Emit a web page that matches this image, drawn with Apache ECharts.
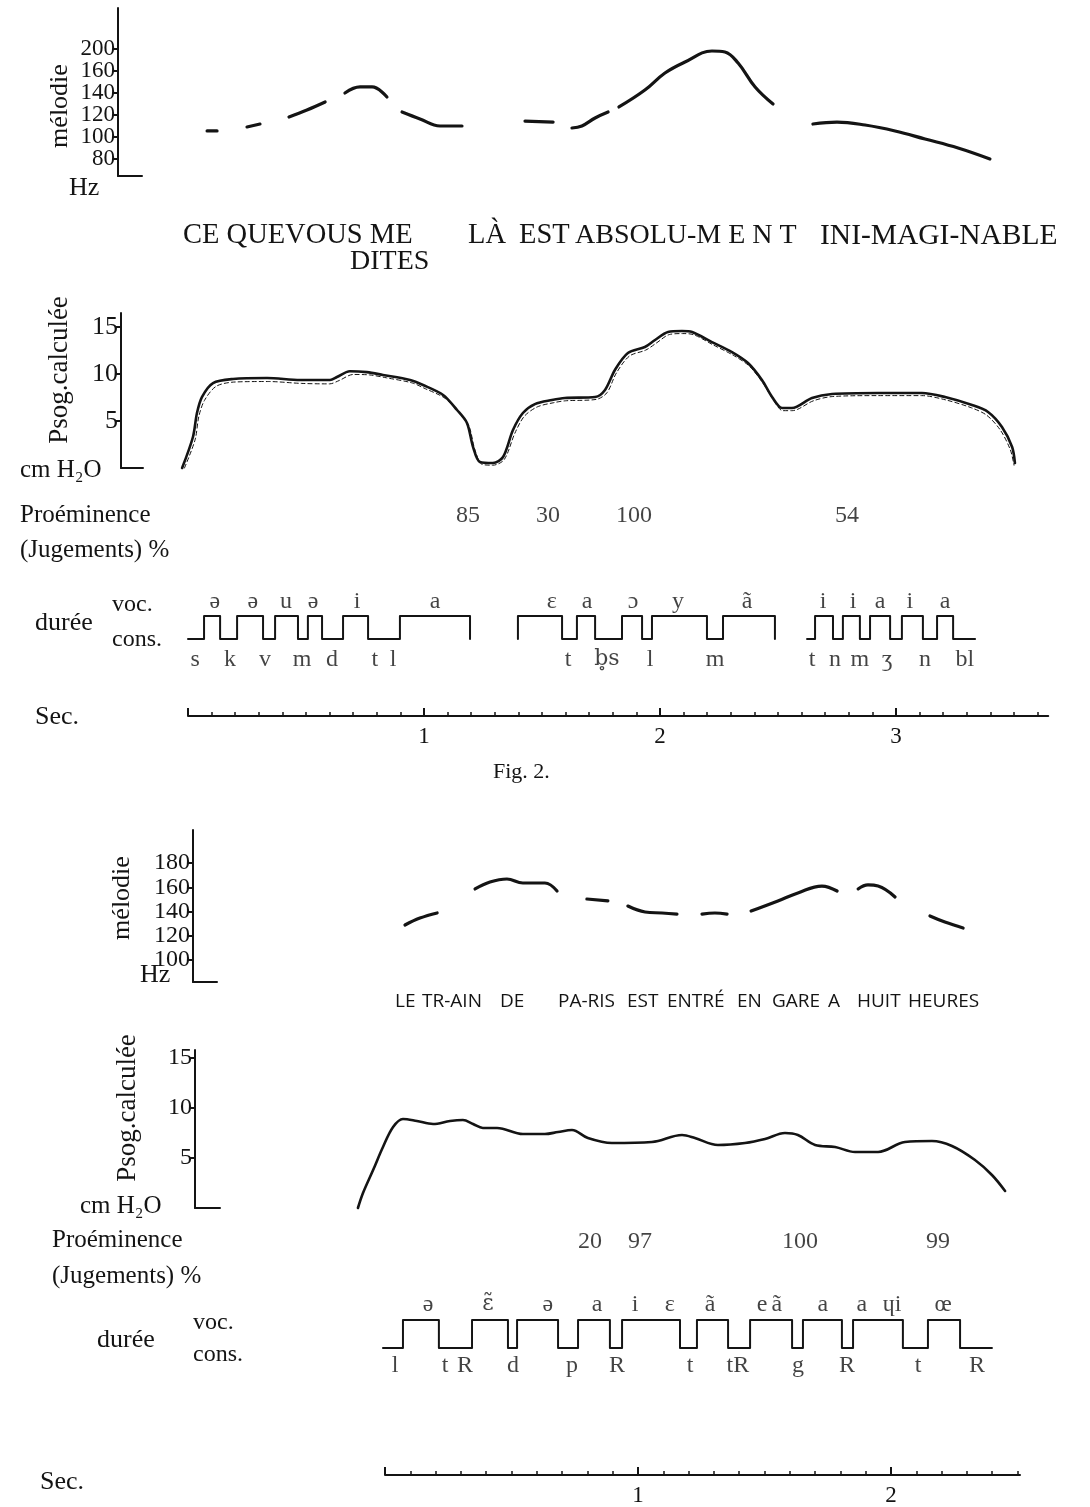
<!DOCTYPE html>
<html>
<head>
<meta charset="utf-8">
<script src="https://cdn.jsdelivr.net/npm/echarts@6/dist/echarts.min.js"></script>
<style>
  html, body { margin: 0; background: #fff; }
  #chart { width: 1090px; height: 1507px; }
</style>
</head>
<body>
<div id="chart"></div>
<script>
// ---------- Fig. 2 (haut) : "Ce que vous me dites là ..." ----------
// mélodie : segments [temps (s), Hz]
var melTicksA = [80, 100, 120, 140, 160, 200]
var melA = [
  [[0.081, 105.5], [0.123, 105.5]],
  [[0.250, 109.1], [0.305, 111.8]],
  [[0.428, 118.2], [0.504, 124.5], [0.581, 131.8]],
  [[0.665, 140], [0.729, 145.5], [0.780, 145.5], [0.843, 136.4]],
  [[0.907, 122.7], [0.983, 116.4], [1.068, 110], [1.161, 110]],
  [[1.428, 114.5], [1.547, 113.6]],
  [[1.627, 108.2], [1.669, 110], [1.725, 117.3], [1.780, 122.7]],
  [[1.826, 127.3], [1.936, 142.7], [2.021, 158.2], [2.106, 176.4], [2.220, 196.4], [2.275, 194.5], [2.331, 174.5], [2.403, 145.5], [2.479, 130]],
  [[2.648, 111.8], [2.750, 113.6], [2.869, 110.9], [2.996, 105.5], [3.123, 98.2], [3.263, 90], [3.398, 80]]
]
// Psog calculée (cm H2O), trait plein et trait pointillé
var psogA = [
  [-0.025, 0], [0.021, 3.3], [0.038, 5.85], [0.059, 7.55], [0.106, 9.04], [0.191, 9.47], [0.335, 9.57],
  [0.475, 9.36], [0.602, 9.36], [0.631, 9.68], [0.686, 10.3], [0.758, 10.2], [0.826, 9.9], [0.941, 9.36],
  [0.996, 8.83], [1.081, 7.77], [1.140, 6.17], [1.182, 4.79], [1.208, 2.23], [1.237, 0.64], [1.292, 0.53],
  [1.335, 1.17], [1.377, 4.04], [1.419, 5.85], [1.470, 6.8], [1.542, 7.23], [1.597, 7.45], [1.725, 7.55],
  [1.767, 8.3], [1.809, 10.43], [1.864, 12.23], [1.936, 12.87], [1.979, 13.62], [2.034, 14.47], [2.093, 14.57],
  [2.136, 14.47], [2.220, 13.4], [2.305, 12.34], [2.373, 11.17], [2.432, 9.36], [2.475, 7.55], [2.517, 6.38],
  [2.559, 6.38], [2.644, 7.45], [2.729, 7.87], [2.924, 7.98], [3.110, 7.98], [3.208, 7.55], [3.322, 6.7],
  [3.390, 5.96], [3.449, 4.36], [3.492, 2.23], [3.504, 0.53]
]
var psogA2 = [
  [-0.015, 0], [0.030, 3.0], [0.046, 5.5], [0.070, 7.2], [0.120, 8.7], [0.200, 9.15], [0.340, 9.2],
  [0.480, 9.0], [0.600, 8.95], [0.640, 9.3], [0.700, 9.95], [0.770, 9.9], [0.840, 9.6], [0.950, 9.05],
  [1.000, 8.5], [1.090, 7.4], [1.150, 5.8], [1.190, 4.5], [1.215, 2.0], [1.245, 0.4], [1.292, 0.3],
  [1.340, 0.9], [1.385, 3.7], [1.425, 5.5], [1.480, 6.5], [1.550, 6.95], [1.600, 7.15], [1.730, 7.3],
  [1.775, 8.0], [1.815, 10.1], [1.870, 11.9], [1.940, 12.55], [1.985, 13.3], [2.040, 14.2], [2.095, 14.3],
  [2.140, 14.2], [2.225, 13.1], [2.310, 12.0], [2.378, 10.85], [2.437, 9.0], [2.480, 7.25], [2.520, 6.1],
  [2.560, 6.1], [2.650, 7.15], [2.730, 7.6], [2.920, 7.7], [3.110, 7.7], [3.210, 7.25], [3.320, 6.4],
  [3.385, 5.6], [3.443, 4.0], [3.485, 1.9], [3.500, 0.3]
]
var psogTicks = [5, 10, 15]
// proéminence (jugements %)
var promAt = [1.186, 1.525, 1.890, 2.792]
var promAv = [85, 30, 100, 54]
// durée : [début, bascules voc/cons ..., fin]
var durA = [
  [0, 0.068, 0.136, 0.208, 0.318, 0.369, 0.466, 0.508, 0.568, 0.657, 0.763, 0.898, 1.195, 1.195],
  [1.398, 1.398, 1.585, 1.648, 1.725, 1.839, 1.924, 1.966, 2.199, 2.267, 2.487, 2.487],
  [2.623, 2.657, 2.733, 2.775, 2.847, 2.890, 2.975, 3.025, 3.114, 3.174, 3.242, 3.335]
]
var vocA = [[0.114, 'ə'], [0.275, 'ə'], [0.415, 'u'], [0.530, 'ə'], [0.716, 'i'], [1.047, 'a'],
  [1.542, 'ɛ'], [1.691, 'a'], [1.886, 'ɔ'], [2.076, 'y'], [2.369, 'ã'],
  [2.691, 'i'], [2.818, 'i'], [2.932, 'a'], [3.059, 'i'], [3.208, 'a']]
var consA = [[0.030, 's'], [0.178, 'k'], [0.326, 'v'], [0.483, 'm'], [0.610, 'd'], [0.792, 't'], [0.869, 'l'],
  [1.610, 't'], [1.775, 'b̥s'], [1.958, 'l'], [2.233, 'm'],
  [2.644, 't'], [2.742, 'n'], [2.847, 'm'], [2.962, 'ʒ'], [3.123, 'n'], [3.292, 'bl']]
var secTicksA = [1, 2, 3]

// ---------- figure du bas : "Le train de Paris ..." ----------
var melTicksB = [100, 120, 140, 160, 180]
var melB = [
  [[0.079, 128.9], [0.138, 134.6], [0.206, 138.8]],
  [[0.356, 158.6], [0.415, 164.3], [0.482, 166.8], [0.545, 163.5], [0.632, 163.5], [0.680, 156.9]],
  [[0.798, 150.3], [0.881, 148.7]],
  [[0.960, 144.5], [1.028, 139.6], [1.095, 138.8], [1.154, 137.9]],
  [[1.253, 137.9], [1.304, 138.8], [1.352, 137.9]],
  [[1.447, 140.4], [1.553, 148.7], [1.632, 155.3], [1.727, 161], [1.787, 156.9]],
  [[1.870, 158.6], [1.909, 161.9], [1.949, 161], [2.016, 152]],
  [[2.154, 136.3], [2.213, 131.3], [2.285, 126.4]]
]
var psogB = [
  [-0.107, 0], [-0.087, 1.5], [-0.047, 3.8], [-0.008, 6.1], [0.032, 8.1], [0.071, 8.9], [0.126, 8.7],
  [0.190, 8.4], [0.257, 8.7], [0.308, 8.8], [0.348, 8.4], [0.387, 8.0], [0.443, 8.0], [0.545, 7.4],
  [0.632, 7.4], [0.684, 7.6], [0.739, 7.8], [0.802, 7.0], [0.897, 6.5], [1.055, 6.6], [1.174, 7.3],
  [1.225, 7.0], [1.316, 6.3], [1.423, 6.5], [1.502, 6.9], [1.581, 7.5], [1.632, 7.3], [1.700, 6.3],
  [1.779, 6.1], [1.858, 5.6], [1.949, 5.6], [2.055, 6.6], [2.162, 6.7], [2.241, 6.2], [2.332, 4.8],
  [2.399, 3.3], [2.451, 1.7]
]
var promBt = [0.810, 1.008, 1.640, 2.186]
var promBv = [20, 97, 100, 99]
var durB = [
  [-0.008, 0.071, 0.213, 0.344, 0.486, 0.522, 0.684, 0.763, 0.889, 0.937, 1.166, 1.233, 1.356,
    1.443, 1.609, 1.652, 1.806, 1.850, 2.047, 2.146, 2.273, 2.399]
]
var vocB = [[0.170, 'ə'], [0.407, 'ɛ̃'], [0.644, 'ə'], [0.838, 'a'], [0.988, 'i'], [1.126, 'ɛ'], [1.285, 'ã'],
  [1.490, 'e'], [1.549, 'ã'], [1.731, 'a'], [1.885, 'a'], [2.004, 'ɥi'], [2.206, 'œ']]
var consB = [[0.040, 'l'], [0.237, 't'], [0.316, 'R'], [0.506, 'd'], [0.739, 'p'], [0.917, 'R'],
  [1.206, 't'], [1.395, 'tR'], [1.632, 'g'], [1.826, 'R'], [2.107, 't'], [2.340, 'R']]
var secTicksB = [1, 2]

// ---------- mise en page ----------
var INK = '#141414'
var SERIF = '"Liberation Serif", "DejaVu Serif", serif'
var FA = { x0: 188, pps: 236, tMin: -0.1, tMax: 3.645 }
var FB = { x0: 385, pps: 253, tMin: -0.15, tMax: 2.51 }

//échelle non linéaire de la mélodie du haut : graduations équidistantes
function melIdx (hz) {
  var t = melTicksA
  if (hz <= t[0]) return (hz - t[0]) / (t[1] - t[0])
  for (var i = 0; i < t.length - 1; i++) {
    if (hz <= t[i + 1]) return i + (hz - t[i]) / (t[i + 1] - t[i])
  }
  return t.length - 1 + (hz - t[t.length - 1]) / (t[t.length - 1] - t[t.length - 2])
}

function tg (F, top, bottom, from0) {
  var t0 = from0 ? 0 : F.tMin
  return { left: F.x0 + t0 * F.pps, width: (F.tMax - t0) * F.pps, top: top, height: bottom - top }
}

var grids = [], xAxes = [], yAxes = [], series = []
var extraX = [], extraY = [] // axes supplémentaires, ajoutés à la fin pour garder les index
function addGrid (g, xa, ya) {
  var i = grids.length
  grids.push(g)
  xa.gridIndex = i
  ya.gridIndex = i
  xAxes.push(xa)
  yAxes.push(ya)
  return i
}
function hid (min, max) {
  return { type: 'value', show: false, min: min, max: max }
}
function line (w) { return { color: INK, width: w || 2 } }

function gradY (min, max, ticks, fmt, fs, showLine) {
  return { type: 'value', min: min, max: max, position: 'left', offset: 0,
    axisLine: { show: showLine, onZero: false, lineStyle: line(2) },
    axisTick: { show: true, length: 5, customValues: ticks, lineStyle: line(2) },
    axisLabel: { show: true, customValues: ticks, formatter: fmt, margin: 3,
      showMinLabel: true, showMaxLabel: true, hideOverlap: false,
      fontFamily: SERIF, fontSize: fs, color: INK },
    splitLine: { show: false } }
}

// axe vertical gradué + petit trait horizontal à sa base
// (graduations serrées : réparties sur deux axes superposés pour qu'aucune ne soit masquée)
function stubAxis (g, min, max, ticks, fmt, fs, split) {
  var main = split ? ticks.filter(function (v, i) { return i % 2 === 0 }) : ticks
  var gi = addGrid(g,
    { type: 'value', min: 0, max: 1, axisLine: { show: true, onZero: false, lineStyle: line(2) },
      axisTick: { show: false }, axisLabel: { show: false }, splitLine: { show: false } },
    gradY(min, max, main, fmt, fs, true))
  if (split) {
    var other = gradY(min, max, ticks.filter(function (v, i) { return i % 2 === 1 }), fmt, fs, false)
    other.gridIndex = gi
    extraY.push(other)
  }
  return gi
}

function curve (gi, data, w, dash, smooth) {
  series.push({ type: 'line', xAxisIndex: gi, yAxisIndex: gi, data: data, showSymbol: false,
    smooth: smooth, silent: true, clip: false,
    lineStyle: { color: INK, width: w, type: dash || 'solid', cap: 'round', join: 'round' } })
}

function labels (gi, items, y, fs) {
  series.push({ type: 'scatter', xAxisIndex: gi, yAxisIndex: gi, symbolSize: 1, clip: false, silent: true,
    itemStyle: { color: 'rgba(0,0,0,0)' },
    data: items.map(function (d) {
      var item = { value: [d[0], y, d[1]] }
      // diacritiques combinants : police qui les place correctement
      if (/[\u0300-\u036f]/.test(d[1])) item.label = { fontFamily: '"DejaVu Serif", serif', fontSize: fs - 2 }
      return item
    }),
    label: { show: true, position: 'inside', formatter: function (p) { return p.value[2] },
      fontFamily: SERIF, fontSize: fs, color: INK } })
}

function stepPts (seg) {
  var pts = [[seg[0], 0]], lvl = 0
  for (var i = 1; i < seg.length - 1; i++) {
    pts.push([seg[i], lvl])
    lvl = 1 - lvl
    pts.push([seg[i], lvl])
  }
  pts.push([seg[seg.length - 1], lvl])
  return pts
}

function secAxis (F, top, bottom, ticks) {
  var gi = addGrid(tg(F, top, bottom, true),
    { type: 'value', min: 0, max: F.tMax, position: 'bottom', offset: 0,
      axisLine: { show: true, onZero: false, lineStyle: line(2) },
      axisTick: { show: true, inside: true, length: 8, customValues: [0].concat(ticks), lineStyle: line(2) },
      axisLabel: { show: true, customValues: ticks, formatter: String, margin: 9,
        fontFamily: SERIF, fontSize: 23, color: INK },
      splitLine: { show: false } },
    hid(0, 1))
  var minor = []
  for (var k = 1; k / 10 < F.tMax; k++) if (k % 10) minor.push(+(k / 10).toFixed(1))
  extraX.push({ type: 'value', gridIndex: gi, min: 0, max: F.tMax, position: 'bottom', offset: 0,
    axisLine: { show: false }, axisLabel: { show: false }, splitLine: { show: false },
    axisTick: { show: true, inside: true, length: 4, customValues: minor, lineStyle: line(1.5) } })
}

// ----- figure du haut -----
var idxTicks = melTicksA.map(function (v, i) { return i })
stubAxis({ left: 118, width: 24, top: 8, height: 168 }, -0.773, 6.864, idxTicks,
  function (v) { return melTicksA[Math.round(v)] }, 23, true)
var gMelA = addGrid(tg(FA, 8, 176), hid(FA.tMin, FA.tMax), hid(-0.773, 6.864))
melA.forEach(function (seg) {
  curve(gMelA, seg.map(function (d) { return [d[0], melIdx(d[1])] }), 3.2, null, 0.4)
})

stubAxis({ left: 121, width: 22, top: 313, height: 155 }, 0, 16.49, psogTicks, String, 26)
var gPsA = addGrid(tg(FA, 313, 468), hid(FA.tMin, FA.tMax), hid(0, 16.49))
curve(gPsA, psogA2, 1, [4, 3], 0.3)
curve(gPsA, psogA, 2.6, null, 0.3)

var gPrA = addGrid(tg(FA, 500, 532), hid(FA.tMin, FA.tMax), hid(0, 1))
labels(gPrA, promAt.map(function (t, i) { return [t, String(promAv[i])] }), 0.5, 24)

var gDuA = addGrid(tg(FA, 588.4, 673.5), hid(FA.tMin, FA.tMax), hid(-1.5, 2.2))
durA.forEach(function (seg) { curve(gDuA, stepPts(seg), 2, null, false) })
labels(gDuA, vocA, 1.62, 24)
labels(gDuA, consA, -0.9, 24)

secAxis(FA, 690, 716, secTicksA)

// ----- figure du bas -----
stubAxis({ left: 193, width: 24, top: 830, height: 152 }, 81.9, 207.2, melTicksB, String, 24, true)
var gMelB = addGrid(tg(FB, 830, 982), hid(FB.tMin, FB.tMax), hid(81.9, 207.2))
melB.forEach(function (seg) { curve(gMelB, seg, 3.2, null, 0.4) })

stubAxis({ left: 195, width: 25, top: 1050, height: 158 }, 0, 15.8, psogTicks, String, 24)
var gPsB = addGrid(tg(FB, 1050, 1208), hid(FB.tMin, FB.tMax), hid(0, 15.8))
curve(gPsB, psogB, 2.6, null, 0.35)

var gPrB = addGrid(tg(FB, 1226, 1258), hid(FB.tMin, FB.tMax), hid(0, 1))
labels(gPrB, promBt.map(function (t, i) { return [t, String(promBv[i])] }), 0.5, 24)

var gDuB = addGrid(tg(FB, 1286.4, 1390), hid(FB.tMin, FB.tMax), hid(-1.5, 2.2))
durB.forEach(function (seg) { curve(gDuB, stepPts(seg), 2, null, false) })
labels(gDuB, vocB, 1.55, 24)
labels(gDuB, consB, -0.64, 24)

secAxis(FB, 1450, 1479, secTicksB)

// ----- textes -----
function txt (s, x, y, fs, rot, align, fam) {
  return { type: 'text', x: x, y: y, rotation: rot || 0, silent: true,
    style: { text: s, font: fs + 'px ' + (fam || SERIF), fill: INK,
      align: align || 'left', verticalAlign: 'middle' } }
}
var SANS = '"Open Sans", "DejaVu Sans", sans-serif'
var texts = [
  txt('mélodie', 60, 106, 26, Math.PI / 2, 'center'),
  txt('Hz', 69, 188, 26),
  txt('CE QUEVOUS ME', 183, 236, 28.5),
  txt('LÀ', 468, 236, 28.5),
  txt('EST', 519, 236, 28.5),
  txt('ABSOLU-M E N T', 575, 236, 28),
  txt('INI-MAGI-NABLE', 820, 236, 29.5),
  txt('DITES', 350, 262, 28),
  txt('Psog.calculée', 60, 370, 27, Math.PI / 2, 'center'),
  txt('cm H₂O', 20, 470, 25),
  txt('Proéminence', 20, 515, 25),
  txt('(Jugements) %', 20, 550, 25),
  txt('durée', 35, 623, 26),
  txt('voc.', 112, 605, 24),
  txt('cons.', 112, 640, 24),
  txt('Sec.', 35, 717, 26),
  txt('Fig. 2.', 493, 772, 22),

  txt('mélodie', 122, 898, 26, Math.PI / 2, 'center'),
  txt('Hz', 140, 975, 26),
  txt('Psog.calculée', 128, 1108, 27, Math.PI / 2, 'center'),
  txt('cm H₂O', 80, 1206, 25),
  txt('Proéminence', 52, 1240, 25),
  txt('(Jugements) %', 52, 1276, 25),
  txt('durée', 97, 1340, 26),
  txt('voc.', 193, 1323, 24),
  txt('cons.', 193, 1355, 24),
  txt('Sec.', 40, 1482, 26)
]
var phrase = [['LE', 395], ['TR-AIN', 422], ['DE', 500], ['PA-RIS', 558], ['EST', 627], ['ENTRÉ', 667],
  ['EN', 737], ['GARE', 772], ['A', 828], ['HUIT', 857], ['HEURES', 908]]
phrase.forEach(function (w) { texts.push(txt(w[0], w[1], 1002, 19, 0, 'left', SANS)) })

var myChart = echarts.init(document.getElementById('chart'))
myChart.setOption({
  animation: false,
  backgroundColor: '#fff',
  grid: grids,
  xAxis: xAxes.concat(extraX),
  yAxis: yAxes.concat(extraY),
  series: series,
  graphic: texts
})
</script>
</body>
</html>
